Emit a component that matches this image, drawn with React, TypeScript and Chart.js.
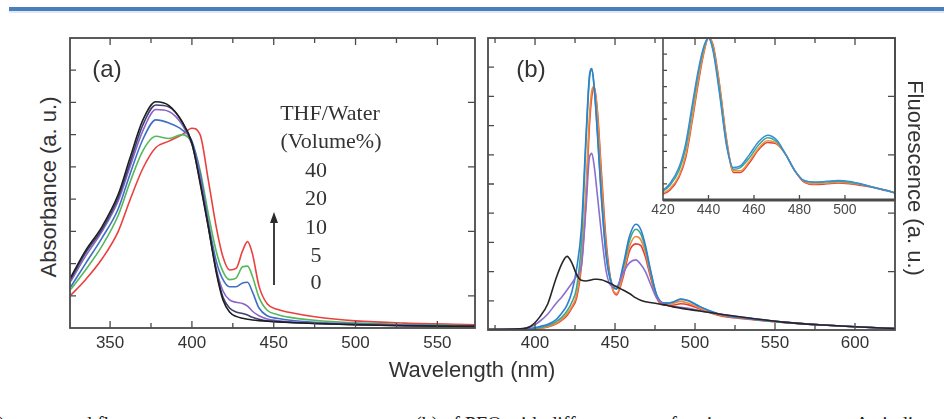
import React, { useEffect, useRef } from "react";
import { Chart, registerables } from "chart.js";

Chart.register(...registerables);

// ---------- Panel (a): absorbance ----------
const absWavelengths = [326, 335, 345, 355, 362, 370, 378, 386, 394, 400, 405, 410, 415, 419, 423, 427, 431, 434, 437, 441, 446, 452, 460, 475, 500, 530, 575];
const abs0 = [1.58, 2.4, 3.14, 4.15, 5.25, 6.45, 7.02, 6.9, 6.4, 5.75, 4.5, 3.15, 1.7, 0.87, 0.5, 0.36, 0.3, 0.27, 0.25, 0.23, 0.21, 0.19, 0.17, 0.14, 0.1, 0.07, 0.05];
const abs5 = [1.52, 2.33, 3.06, 4.05, 5.1, 6.3, 6.92, 6.86, 6.4, 5.72, 4.55, 3.15, 1.75, 0.95, 0.62, 0.5, 0.45, 0.4, 0.33, 0.27, 0.22, 0.2, 0.17, 0.14, 0.1, 0.07, 0.05];
const abs10 = [1.45, 2.23, 2.99, 3.95, 4.98, 6.12, 6.78, 6.72, 6.31, 5.7, 4.7, 3.2, 1.82, 1.15, 0.87, 0.8, 0.76, 0.68, 0.52, 0.38, 0.28, 0.23, 0.19, 0.15, 0.11, 0.08, 0.05];
const abs20 = [1.28, 2.0, 2.79, 3.7, 4.75, 5.85, 6.46, 6.36, 6.15, 5.8, 4.8, 3.3, 2.05, 1.5, 1.28, 1.28, 1.4, 1.42, 1.12, 0.62, 0.38, 0.3, 0.24, 0.18, 0.13, 0.09, 0.06];
const abs30 = [1.2, 1.8, 2.54, 3.5, 4.5, 5.5, 5.95, 5.88, 6.0, 5.75, 4.9, 3.55, 2.35, 1.75, 1.5, 1.55, 1.9, 1.92, 1.6, 0.95, 0.55, 0.42, 0.33, 0.24, 0.16, 0.11, 0.07];
const abs40 = [1.02, 1.5, 2.14, 3.0, 3.95, 4.95, 5.6, 5.8, 6.0, 6.2, 6.0, 4.6, 3.1, 2.2, 1.8, 1.85, 2.4, 2.68, 2.3, 1.3, 0.75, 0.58, 0.48, 0.35, 0.22, 0.15, 0.1];
const absTicks = [350, 400, 450, 500, 550];

// ---------- Panel (b): fluorescence ----------
const flWavelengths = [371, 390, 397, 403, 408, 413, 417, 420, 423, 426, 429, 432, 434, 435.5, 437, 439, 441.5, 444.5, 448, 451, 455, 459, 463, 466, 469, 472, 476, 481, 486, 491, 496, 503, 515, 535, 555, 580, 600, 625];
const fl0 = [0.02, 0.04, 0.12, 0.45, 0.9, 1.75, 2.3, 2.52, 2.3, 1.9, 1.7, 1.68, 1.7, 1.72, 1.74, 1.74, 1.72, 1.66, 1.57, 1.48, 1.37, 1.25, 1.1, 1.02, 0.97, 0.94, 0.91, 0.86, 0.8, 0.75, 0.7, 0.65, 0.55, 0.4, 0.27, 0.17, 0.11, 0.05];
const fl5 = [0.02, 0.04, 0.1, 0.3, 0.55, 0.9, 1.15, 1.37, 1.6, 1.85, 2.2, 4.3, 5.9, 6.05, 5.6, 4.6, 3.3, 2.0, 1.5, 1.5, 1.95, 2.3, 2.4, 2.25, 2.0, 1.6, 1.1, 0.88, 0.8, 0.78, 0.74, 0.66, 0.55, 0.4, 0.27, 0.17, 0.11, 0.05];
const fl10 = [0.01, 0.02, 0.05, 0.12, 0.2, 0.35, 0.6, 0.85, 1.3, 2.1, 3.5, 6.8, 8.7, 8.95, 8.3, 6.7, 4.5, 2.5, 1.55, 1.4, 2.2, 3.2, 3.62, 3.45, 2.9, 2.1, 1.2, 0.92, 0.95, 1.06, 1.0, 0.8, 0.55, 0.38, 0.27, 0.17, 0.11, 0.05];
const fl20 = [0.01, 0.02, 0.04, 0.08, 0.15, 0.28, 0.45, 0.65, 0.95, 1.45, 3.0, 6.6, 8.6, 8.9, 8.3, 6.8, 4.6, 2.6, 1.6, 1.42, 2.1, 3.05, 3.45, 3.3, 2.8, 2.05, 1.2, 0.92, 0.95, 1.05, 1.0, 0.8, 0.55, 0.38, 0.27, 0.17, 0.11, 0.05];
const fl30 = [0.01, 0.02, 0.03, 0.06, 0.12, 0.22, 0.38, 0.55, 0.8, 1.2, 2.4, 5.0, 7.3, 8.2, 8.35, 7.4, 5.2, 2.8, 1.5, 1.25, 1.9, 2.85, 3.2, 3.1, 2.65, 1.95, 1.15, 0.88, 0.9, 0.98, 0.92, 0.75, 0.52, 0.37, 0.26, 0.17, 0.11, 0.05];
const fl40 = [0.01, 0.02, 0.03, 0.05, 0.1, 0.2, 0.35, 0.5, 0.75, 1.1, 2.2, 4.6, 7.0, 8.0, 8.3, 7.5, 5.4, 3.0, 1.5, 1.2, 1.8, 2.7, 2.95, 2.9, 2.5, 1.85, 1.1, 0.85, 0.85, 0.9, 0.86, 0.72, 0.5, 0.36, 0.26, 0.17, 0.11, 0.05];
const flTicks = [400, 450, 500, 550, 600];

// ---------- Inset: normalised fluorescence ----------
const insetWavelengths = [419, 423, 427, 430, 433, 435.5, 438, 440, 442, 445, 448, 451, 454, 458, 462, 466, 470, 474, 478, 482, 487, 492, 497, 502, 507, 512, 518, 523];
const insetBlue = [0.05, 0.1, 0.2, 0.35, 0.6, 0.8, 0.95, 1.0, 0.92, 0.64, 0.33, 0.2, 0.21, 0.28, 0.36, 0.4, 0.37, 0.28, 0.18, 0.12, 0.11, 0.115, 0.12, 0.115, 0.1, 0.08, 0.06, 0.04];
const insetGreen = [0.045, 0.09, 0.18, 0.32, 0.57, 0.78, 0.94, 1.0, 0.93, 0.66, 0.34, 0.19, 0.2, 0.26, 0.34, 0.385, 0.36, 0.28, 0.18, 0.12, 0.11, 0.112, 0.115, 0.11, 0.097, 0.08, 0.06, 0.04];
const insetOrange = [0.035, 0.07, 0.15, 0.28, 0.52, 0.74, 0.92, 1.0, 0.95, 0.69, 0.36, 0.18, 0.18, 0.24, 0.32, 0.365, 0.35, 0.28, 0.18, 0.115, 0.1, 0.105, 0.11, 0.105, 0.095, 0.08, 0.06, 0.04];
const insetRed = [0.03, 0.06, 0.14, 0.26, 0.5, 0.72, 0.91, 1.0, 0.96, 0.7, 0.37, 0.17, 0.17, 0.23, 0.31, 0.355, 0.345, 0.28, 0.18, 0.11, 0.095, 0.1, 0.105, 0.1, 0.09, 0.078, 0.058, 0.04];
const insetTicks = [420, 440, 460, 480, 500];

// ---------- Legend text ----------
const legendTitle = ["THF/Water", "(Volume%)"];
const legendValues = ["40", "20", "10", "5", "0"];

const SANS = '"Liberation Sans", Arial, sans-serif';
const SERIF = '"Liberation Serif", "Times New Roman", serif';
const INK = "#333333";
const FRAME = "#4a4a4a";

type Series = { label: string; x: number[]; y: number[]; color: string };

type FrameSpec = {
  xMajor: number[];
  xMinor: number[];
  xTop: boolean;
  yLeft: number[];
  yRight: number[];
  majorLen: number;
  minorLen: number;
  frameWidth: number;
  bottomWidth?: number;
};

function framePlugin(f: FrameSpec) {
  return {
    id: "frameTicks",
    afterDatasetsDraw(chart: any) {
      const { ctx, chartArea: a, scales } = chart;
      const xs = scales.x;
      const ys = scales.y;
      ctx.save();
      ctx.strokeStyle = FRAME;
      ctx.lineWidth = 1.3;
      ctx.beginPath();
      const xt = (vals: number[], len: number) =>
        vals.forEach((v) => {
          const p = xs.getPixelForValue(v);
          if (p <= a.left + 1 || p >= a.right - 1) return;
          ctx.moveTo(p, a.bottom);
          ctx.lineTo(p, a.bottom - len);
          if (f.xTop) {
            ctx.moveTo(p, a.top);
            ctx.lineTo(p, a.top + len);
          }
        });
      const yt = (vals: number[], len: number, left: boolean) =>
        vals.forEach((v) => {
          const p = ys.getPixelForValue(v);
          if (p <= a.top + 1 || p >= a.bottom - 1) return;
          if (left) {
            ctx.moveTo(a.left, p);
            ctx.lineTo(a.left + len, p);
          } else {
            ctx.moveTo(a.right, p);
            ctx.lineTo(a.right - len, p);
          }
        });
      xt(f.xMajor, f.majorLen);
      xt(f.xMinor, f.minorLen);
      yt(f.yLeft, f.minorLen + 1, true);
      yt(f.yRight, f.majorLen, false);
      ctx.stroke();
      ctx.lineWidth = f.frameWidth;
      ctx.strokeRect(a.left, a.top, a.right - a.left, a.bottom - a.top);
      if (f.bottomWidth) {
        ctx.lineWidth = f.bottomWidth;
        ctx.beginPath();
        ctx.moveTo(a.left, a.bottom);
        ctx.lineTo(a.right, a.bottom);
        ctx.stroke();
      }
      ctx.restore();
    },
  };
}

type PanelProps = {
  left: number;
  top: number;
  width: number;
  height: number;
  pad: { left: number; right: number; top: number; bottom: number };
  series: Series[];
  xMin: number;
  xMax: number;
  yMax: number;
  ticks: number[];
  tickSize: number;
  tickColor: string;
  tickPad: number;
  axisHeight: number;
  frame: FrameSpec;
  lineWidth: number;
  z: number;
};

function Panel(p: PanelProps) {
  const ref = useRef<HTMLCanvasElement | null>(null);
  useEffect(() => {
    if (!ref.current) return;
    const chart = new Chart(ref.current, {
      type: "line",
      data: {
        datasets: p.series.map((s) => ({
          label: s.label,
          data: s.x.map((x, i) => ({ x, y: s.y[i] })),
          borderColor: s.color,
          borderWidth: p.lineWidth,
          pointRadius: 0,
          fill: false,
          cubicInterpolationMode: "monotone" as const,
        })),
      },
      options: {
        responsive: false,
        animation: false,
        layout: { padding: p.pad },
        plugins: { legend: { display: false }, tooltip: { enabled: false } },
        scales: {
          x: {
            type: "linear",
            min: p.xMin,
            max: p.xMax,
            grid: { display: false, drawTicks: false },
            border: { display: false },
            ticks: {
              autoSkip: false,
              maxRotation: 0,
              padding: p.tickPad,
              color: p.tickColor,
              font: { family: SANS, size: p.tickSize },
              callback: (v: any) => String(v),
            },
            afterBuildTicks: (s: any) => {
              s.ticks = p.ticks.map((v) => ({ value: v }));
            },
            afterFit: (s: any) => {
              s.height = p.axisHeight;
              s.paddingLeft = 0;
              s.paddingRight = 0;
            },
          },
          y: { type: "linear", display: false, min: 0, max: p.yMax },
        },
      },
      plugins: [framePlugin(p.frame)],
    } as any);
    return () => chart.destroy();
  }, []);
  return (
    <canvas
      ref={ref}
      width={p.width}
      height={p.height}
      style={{ position: "absolute", left: p.left, top: p.top, width: p.width, height: p.height, zIndex: p.z }}
    />
  );
}

const absSeries: Series[] = [
  { label: "0", x: absWavelengths, y: abs0, color: "#1e1e1e" },
  { label: "5", x: absWavelengths, y: abs5, color: "#3d4170" },
  { label: "10", x: absWavelengths, y: abs10, color: "#8a64c8" },
  { label: "20", x: absWavelengths, y: abs20, color: "#3f70c6" },
  { label: "30", x: absWavelengths, y: abs30, color: "#55b85a" },
  { label: "40", x: absWavelengths, y: abs40, color: "#e8413e" },
];

const flSeries: Series[] = [
  { label: "0", x: flWavelengths, y: fl0, color: "#262626" },
  { label: "5", x: flWavelengths, y: fl5, color: "#8a6fd0" },
  { label: "10", x: flWavelengths, y: fl10, color: "#2f7fd0" },
  { label: "20", x: flWavelengths, y: fl20, color: "#3aa88a" },
  { label: "30", x: flWavelengths, y: fl30, color: "#f08a3c" },
  { label: "40", x: flWavelengths, y: fl40, color: "#e4403a" },
];

const insetSeries: Series[] = [
  { label: "blue", x: insetWavelengths, y: insetBlue, color: "#3b8bd6" },
  { label: "green", x: insetWavelengths, y: insetGreen, color: "#3aa98a" },
  { label: "orange", x: insetWavelengths, y: insetOrange, color: "#f0923c" },
  { label: "red", x: insetWavelengths, y: insetRed, color: "#e0413c" },
];

function Text(props: { x: number; y: number; size: number; family?: string; rotate?: number; children: React.ReactNode }) {
  return (
    <div
      style={{
        position: "absolute",
        left: props.x,
        top: props.y,
        transform: `translate(-50%, -50%) rotate(${props.rotate || 0}deg)`,
        fontSize: props.size,
        fontFamily: props.family || SANS,
        color: INK,
        whiteSpace: "nowrap",
        lineHeight: 1,
        zIndex: 5,
      }}
    >
      {props.children}
    </div>
  );
}

export default function App() {
  const legendYs = [170, 198, 227, 255, 282];
  return (
    <div style={{ position: "absolute", left: 0, top: 0, width: 944, height: 419, overflow: "hidden", background: "#ffffff" }}>
      <div style={{ position: "absolute", left: 9, top: 7, width: 935, height: 4, background: "#4a7ebf" }} />
      <div style={{ position: "absolute", left: 9, top: 11, width: 935, height: 2, background: "#dfe8f3" }} />

      <Panel
        left={64}
        top={32}
        width={417}
        height={336}
        pad={{ left: 6, right: 6, top: 6, bottom: 0 }}
        series={absSeries}
        xMin={325.5}
        xMax={573}
        yMax={9}
        ticks={absTicks}
        tickSize={17}
        tickColor={INK}
        tickPad={5}
        axisHeight={40}
        lineWidth={1.6}
        z={2}
        frame={{
          xMajor: absTicks,
          xMinor: [375, 425, 475, 525],
          xTop: true,
          yLeft: [1, 2, 3, 4, 5, 6, 7, 8],
          yRight: [1, 3, 5, 7],
          majorLen: 7,
          minorLen: 5,
          frameWidth: 1.8,
        }}
      />

      <Panel
        left={643}
        top={32}
        width={258}
        height={194}
        pad={{ left: 20, right: 6, top: 6, bottom: 0 }}
        series={insetSeries}
        xMin={420}
        xMax={522}
        yMax={1}
        ticks={insetTicks}
        tickSize={14}
        tickColor="#4a4a4a"
        tickPad={2}
        axisHeight={26}
        lineWidth={1.5}
        z={1}
        frame={{
          xMajor: insetTicks,
          xMinor: [],
          xTop: false,
          yLeft: [0.1, 0.2, 0.3, 0.4, 0.5, 0.6, 0.7, 0.8, 0.9],
          yRight: [],
          majorLen: 5,
          minorLen: 3,
          frameWidth: 1.6,
          bottomWidth: 3,
        }}
      />

      <Panel
        left={482}
        top={32}
        width={419}
        height={338}
        pad={{ left: 6, right: 6, top: 6, bottom: 0 }}
        series={flSeries}
        xMin={370.6}
        xMax={625}
        yMax={10}
        ticks={flTicks}
        tickSize={17}
        tickColor={INK}
        tickPad={3}
        axisHeight={40}
        lineWidth={1.6}
        z={2}
        frame={{
          xMajor: flTicks,
          xMinor: [375, 425, 475, 525, 575],
          xTop: true,
          yLeft: [1, 2, 3, 4, 5, 6, 7, 8, 9],
          yRight: [2, 4, 6, 8],
          majorLen: 7,
          minorLen: 5,
          frameWidth: 1.8,
        }}
      />

      <Text x={107} y={69} size={24}>(a)</Text>
      <Text x={531} y={69} size={24}>(b)</Text>
      <Text x={49} y={187} size={22} rotate={-90}>Absorbance (a. u.)</Text>
      <Text x={915} y={178} size={22} rotate={90}>Fluorescence (a. u.)</Text>
      <Text x={472} y={370} size={22}>Wavelength (nm)</Text>

      <Text x={330} y={113} size={22} family={SERIF}>{legendTitle[0]}</Text>
      <Text x={331} y={141} size={22} family={SERIF}>{legendTitle[1]}</Text>
      {legendValues.map((v, i) => (
        <Text key={v} x={316} y={legendYs[i]} size={22} family={SERIF}>{v}</Text>
      ))}

      <svg style={{ position: "absolute", left: 264, top: 205, zIndex: 5 }} width={20} height={85}>
        <line x1={10} y1={80} x2={10} y2={14} stroke="#2a2a2a" strokeWidth={1.8} />
        <polygon points="10,7 6,18 14,18" fill="#2a2a2a" />
      </svg>

      <div style={{ position: "absolute", top: 414, left: 0, width: 944, height: 20, fontFamily: SERIF, fontSize: 20, lineHeight: "20px", color: "#222", whiteSpace: "nowrap" }}>
        <span style={{ position: "absolute", left: -17 }}>(a)</span>
        <span style={{ position: "absolute", left: 63 }}>and fluorescence spectra</span>
        <span style={{ position: "absolute", left: 415 }}>(b) of PFO with different water fractions.</span>
        <span style={{ position: "absolute", left: 855 }}>As indicated by the</span>
      </div>
    </div>
  );
}
